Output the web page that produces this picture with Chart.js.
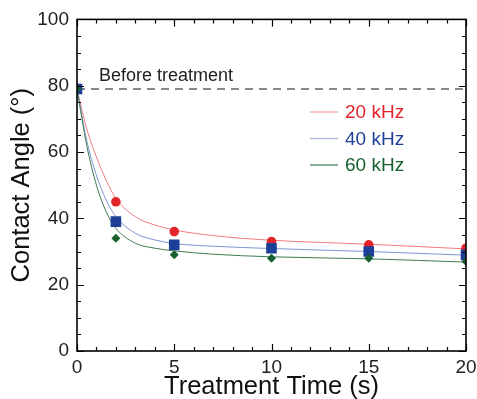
<!DOCTYPE html>
<html>
<head>
<meta charset="utf-8">
<script src="https://cdn.jsdelivr.net/npm/chart.js@4/dist/chart.umd.min.js"></script>
<style>
  html, body { margin: 0; padding: 0; background: #fff; }
  #wrap { width: 477px; height: 399px; }
</style>
</head>
<body>
<div id="wrap"><canvas id="angleChart" width="477" height="399"></canvas></div>
<script>
// measured contact angles (deg) vs treatment time (s)
const times = [0, 2, 5, 10, 15, 20];
const angle20 = [79, 45, 36, 33, 32, 31];
const angle40 = [79, 39, 32, 31, 30, 29];
const angle60 = [79, 34, 29, 28, 28, 27];

// fitted decay curves, sampled
const fitTimes = [0, 0.5, 1, 1.5, 2, 3, 4, 5, 7, 10, 15, 20];
const fit20 = [79, 67, 58.5, 51.5, 46, 40.5, 38, 36.5, 34.8, 33.4, 32.2, 30.8];
const fit40 = [79, 63.5, 53, 45.5, 40.5, 35.5, 33.5, 32.4, 31.6, 30.9, 30, 28.9];
const fit60 = [79, 62, 50, 42, 37, 32.5, 31, 30.2, 29.2, 28.4, 27.8, 26.8];

const beforeValue = 79;
const seriesNames = ['20 kHz', '40 kHz', '60 kHz'];
const xTicks = [0, 5, 10, 15, 20];
const yTicks = [0, 20, 40, 60, 80, 100];

const RED = '#e3242b', BLUE = '#1d3f98', GREEN = '#17602f';
const FONT = "'Liberation Sans', Arial, sans-serif";

const pts = (xs, ys) => xs.map((x, i) => ({ x: x, y: ys[i] }));

// inside ticks on all four sides + frame, legend and note text
const framePlugin = {
  id: 'frame',
  afterDraw(chart) {
    const { ctx, chartArea: a, scales } = chart;
    const xs = scales.x, ys = scales.y;
    ctx.save();
    ctx.strokeStyle = '#000';
    ctx.lineWidth = 1.2;
    for (let v = 0; v <= 20; v += 1) {
      const px = Math.round(xs.getPixelForValue(v)) + 0.5;
      const len = v % 5 === 0 ? 7 : 4;
      ctx.beginPath();
      ctx.moveTo(px, a.bottom); ctx.lineTo(px, a.bottom - len);
      ctx.moveTo(px, a.top); ctx.lineTo(px, a.top + len);
      ctx.stroke();
    }
    for (let v = 0; v <= 100; v += 5) {
      const py = Math.round(ys.getPixelForValue(v)) + 0.5;
      const len = v % 20 === 0 ? 7 : 4;
      ctx.beginPath();
      ctx.moveTo(a.left, py); ctx.lineTo(a.left + len, py);
      ctx.moveTo(a.right, py); ctx.lineTo(a.right - len, py);
      ctx.stroke();
    }
    ctx.lineWidth = 1.6;
    ctx.strokeRect(a.left, a.top, a.right - a.left, a.bottom - a.top);

    // note over the dashed line
    ctx.fillStyle = '#222';
    ctx.font = '18px ' + FONT;
    ctx.textBaseline = 'alphabetic';
    ctx.fillText('Before treatment', xs.getPixelForValue(1.13), ys.getPixelForValue(beforeValue) - 8);

    // legend
    const colors = [RED, BLUE, GREEN];
    const lineColors = ['#f39a9c', '#a9b8e0', '#3d7d52'];
    ctx.font = '19px ' + FONT;
    ctx.textBaseline = 'middle';
    seriesNames.forEach((name, i) => {
      const y = 112 + i * 26.5;
      ctx.strokeStyle = lineColors[i];
      ctx.lineWidth = 1.2;
      ctx.beginPath();
      ctx.moveTo(310, y); ctx.lineTo(338, y);
      ctx.stroke();
      ctx.fillStyle = colors[i];
      ctx.fillText(name, 345, y + 1);
    });
    ctx.restore();
  }
};

const markerSet = (ys, color, style, r) => ({
  data: pts(times, ys), showLine: false,
  pointStyle: style, pointRadius: r, pointHoverRadius: r,
  backgroundColor: color, borderColor: color, borderWidth: 0
});
const fitSet = (ys, color) => ({
  data: pts(fitTimes, ys), showLine: true, pointRadius: 0,
  borderColor: color, borderWidth: 1, cubicInterpolationMode: 'monotone', fill: false
});

new Chart(document.getElementById('angleChart'), {
  type: 'scatter',
  data: {
    datasets: [
      markerSet(angle60, GREEN, 'rectRot', 4.5),
      markerSet(angle40, BLUE, 'rect', 7.5),
      markerSet(angle20, RED, 'circle', 4.8),
      fitSet(fit60, '#3d7d52'),
      fitSet(fit40, '#7f94d2'),
      fitSet(fit20, '#f07c80'),
      {
        data: [{ x: 0, y: beforeValue }, { x: 20, y: beforeValue }],
        showLine: true, pointRadius: 0, borderColor: '#111', borderWidth: 1.1,
        borderDash: [8, 6]
      }
    ]
  },
  options: {
    responsive: false,
    animation: false,
    events: [],
    layout: { padding: { top: 19, right: 11, left: 0, bottom: 0 } },
    plugins: { legend: { display: false }, tooltip: { enabled: false } },
    scales: {
      x: {
        type: 'linear', min: 0, max: 20,
        afterBuildTicks: s => { s.ticks = xTicks.map(v => ({ value: v })); },
        afterFit: s => { s.height = 48; s.paddingLeft = 0; s.paddingRight = 0; },
        grid: { display: false, drawTicks: false },
        border: { display: false },
        ticks: { color: '#222', font: { family: FONT, size: 19 }, padding: 5, maxRotation: 0 },
        title: { display: true, text: 'Treatment Time (s)', color: '#111',
                 font: { family: FONT, size: 25.5 }, padding: { top: 0, bottom: -3 } }
      },
      y: {
        type: 'linear', min: 0, max: 100,
        afterBuildTicks: s => { s.ticks = yTicks.map(v => ({ value: v })); },
        afterFit: s => { s.width = 77; },
        grid: { display: false, drawTicks: false },
        border: { display: false },
        ticks: { color: '#222', font: { family: FONT, size: 19 }, padding: 8 },
        title: { display: true, text: 'Contact Angle (°)', color: '#111',
                 font: { family: FONT, size: 25.5 }, padding: { top: 7, bottom: 0 } }
      }
    }
  },
  plugins: [framePlugin]
});
</script>
</body>
</html>
